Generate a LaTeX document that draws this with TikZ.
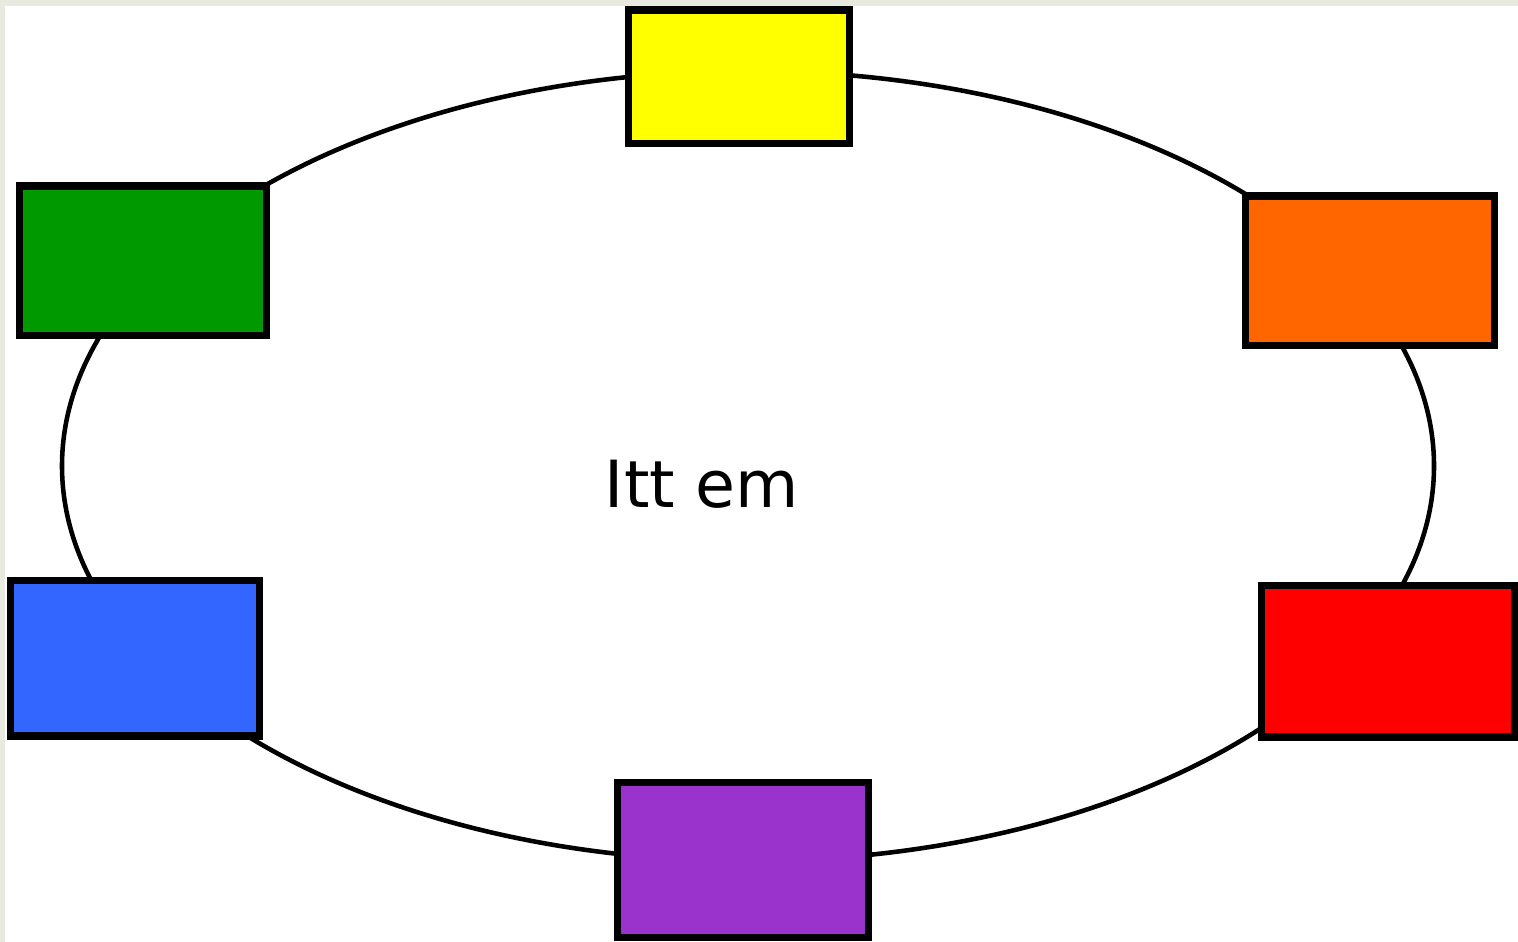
\documentclass[tikz,border=0pt]{standalone}
\usepackage{fontspec}
\newfontfamily\itemfont{DejaVu Sans}
\definecolor{rahmen}{RGB}{232,234,224}
\definecolor{gelb}{RGB}{255,255,0}
\definecolor{orange}{RGB}{255,102,0}
\definecolor{gruen}{RGB}{0,153,0}
\definecolor{blau}{RGB}{51,102,255}
\definecolor{rot}{RGB}{255,0,0}
\definecolor{lila}{RGB}{153,51,204}
\tikzset{
  kachel/.style={draw=black, line width=4pt, inner sep=0pt},
}
\begin{document}
\begin{tikzpicture}[x=0.02cm, y=-0.02cm]
			\useasboundingbox (0,0) rectangle (1518,942);
			\fill[rahmen] (0,0) rectangle (1518,942);
			\fill[white] (5,6) rectangle (1518,942);
			
			% Ring
			\draw[line width=2.6pt] (748,466) ellipse (686 and 395);
			
			% Kacheln
			\node[kachel, fill=gelb, minimum width=4.42cm, minimum height=2.68cm] (gelb) at (739,77) {};
			\node[kachel, fill=orange, minimum width=4.98cm, minimum height=3.00cm] (orange) at (1370,271) {};
			\node[kachel, fill=rot, minimum width=5.06cm, minimum height=3.04cm] (rot) at (1388,661) {};
			\node[kachel, fill=lila, minimum width=5.04cm, minimum height=3.10cm] (lila) at (743,860) {};
			\node[kachel, fill=blau, minimum width=4.98cm, minimum height=3.12cm] (blau) at (135,658) {};
			\node[kachel, fill=gruen, minimum width=4.96cm, minimum height=3.00cm] (gruen) at (143,261) {};
			
			\node[inner sep=0pt, anchor=base, font=\itemfont\fontsize{37pt}{44pt}\selectfont] (text) at (702,507) {Itt em};
		\end{tikzpicture}
\end{document}
